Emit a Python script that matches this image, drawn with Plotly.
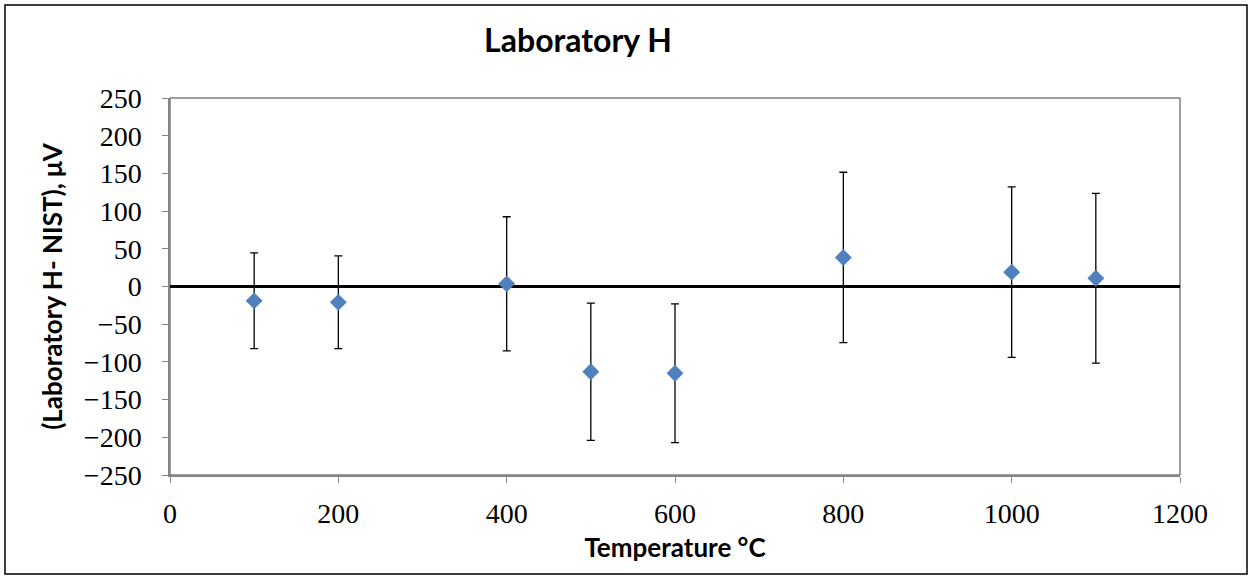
import plotly.graph_objects as go

# temperature points and lab H - NIST differences (uV)
temps = [100, 200, 400, 500, 600, 800, 1000, 1100]
diffs = [-19, -21, 3.5, -113, -115, 38.5, 19, 11]
uncert = [63.5, 61.5, 89, 91, 92, 113, 113, 112.5]

x_ticks = [0, 200, 400, 600, 800, 1000, 1200]
y_ticks = [250, 200, 150, 100, 50, 0, -50, -100, -150, -200, -250]
y_labels = [str(v).replace("-", "\u2212") for v in y_ticks]

fig = go.Figure()
fig.add_trace(go.Scatter(
    x=temps, y=diffs, mode="markers",
    marker=dict(symbol="diamond", size=13, color="#4F81BD"),
    error_y=dict(type="data", array=uncert, visible=True,
                 color="black", thickness=1.3, width=4),
    hoverinfo="skip", showlegend=False,
))

tick_font = dict(family="Liberation Serif", size=28, color="black")
title_font = dict(family="Lato", size=26, color="black", weight="bold")

fig.update_layout(
    width=1252, height=579,
    margin=dict(l=170, r=72, t=98, b=104),
    paper_bgcolor="white", plot_bgcolor="white",
    title=dict(text="Laboratory H", x=578 / 1252, xanchor="center",
               y=1 - 41 / 579, yanchor="middle",
               font=dict(family="Lato", size=32, color="black", weight="bold")),
    xaxis=dict(range=[0, 1200], tickvals=x_ticks, showgrid=False, zeroline=False,
               showline=True, linecolor="#868686", linewidth=1.5,
               ticks="outside", ticklen=6, tickcolor="#868686",
               tickfont=tick_font, ticklabelstandoff=7,
               title=dict(text="Temperature \u00b0C", font=title_font, standoff=10)),
    yaxis=dict(range=[-250, 250], tickvals=y_ticks, ticktext=y_labels, showgrid=False,
               zeroline=True, zerolinecolor="black", zerolinewidth=3,
               showline=True, linecolor="#868686", linewidth=1.5,
               ticks="outside", ticklen=6, tickcolor="#868686",
               tickfont=tick_font, ticklabelstandoff=15,
               title=dict(text="(Laboratory H- NIST), \u03bcV", font=title_font, standoff=14)),
    shapes=[
        # plot area border
        dict(type="rect", xref="paper", yref="paper", x0=0, x1=1, y0=0, y1=1,
             line=dict(color="#404040", width=1), layer="below"),
        # chart border
        dict(type="rect", xref="paper", yref="paper",
             x0=(5 - 170) / 1010, x1=(1247 - 170) / 1010,
             y0=(475 - 574) / 377, y1=(475 - 5) / 377,
             line=dict(color="black", width=1.5)),
    ],
)

fig.write_html("out.html", config={"displayModeBar": False},
               post_script="document.body.style.margin = '0';")
